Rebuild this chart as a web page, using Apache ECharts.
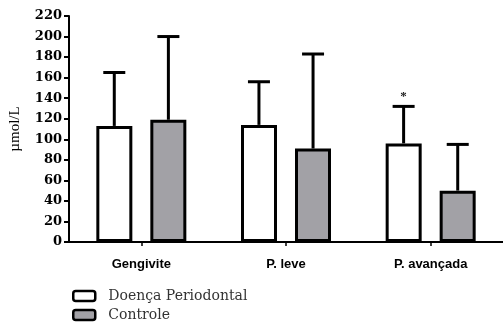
<!DOCTYPE html>
<html>
<head>
<meta charset="utf-8">
<script src="https://cdn.jsdelivr.net/npm/echarts@6/dist/echarts.min.js"></script>
<style>html,body{margin:0;padding:0;background:#fff;}#c{width:503px;height:322px;}</style>
</head>
<body>
<div id="c"></div>
<script>
const categories = ['Gengivite', 'P. leve', 'P. avançada'];
const seriesNames = ['Doença Periodontal', 'Controle'];
const periodontal = [113, 114, 96];
const periodontalUpper = [165, 156, 132];
const controle = [119, 91, 50];
const controleUpper = [200, 183, 95];
const significance = ['', '', '*'];
const yTicks = { min: 0, max: 220, interval: 20 };

const chart = echarts.init(document.getElementById('c'), null, { renderer: 'canvas' });

function errorSeries(name, means, uppers, sign, marks) {
  return {
    type: 'custom',
    name: name + ' SD',
    z: 5,
    data: means.map((m, i) => [i, m, uppers[i]]),
    renderItem: function (params, api) {
      const i = api.value(0);
      const bw = api.size([1, 0])[0];
      const off = sign * bw * 0.187;
      const base = api.coord([i, api.value(1)]);
      const top = api.coord([i, api.value(2)]);
      const x = base[0] + off;
      const children = [
        { type: 'line', shape: { x1: x, y1: base[1], x2: x, y2: top[1] }, style: { stroke: '#000', lineWidth: 3 } },
        { type: 'line', shape: { x1: x - 11, y1: top[1], x2: x + 11, y2: top[1] }, style: { stroke: '#000', lineWidth: 3 } }
      ];
      const mark = marks ? marks[params.dataIndex] : '';
      if (mark) {
        children.push({ type: 'text', style: { text: mark, x: x, y: top[1] - 3, align: 'center', verticalAlign: 'bottom', font: 'bold 13px "Liberation Serif"', fill: '#222' } });
      }
      return { type: 'group', children: children };
    }
  };
}

function legendFor(name, top) {
  return {
    left: 72,
    top: top,
    padding: 0,
    itemWidth: 22,
    itemHeight: 10,
    icon: 'roundRect',
    data: [name],
    textStyle: { fontFamily: 'DejaVu Serif', fontSize: 14, color: '#333', padding: [0, 0, 0, 8] },
    itemStyle: { borderColor: '#000', borderWidth: 2.5 }
  };
}

chart.setOption({
  animation: false,
  backgroundColor: '#fff',
  grid: { left: 67, top: 16, width: 438, bottom: 80, containLabel: false },
  legend: [legendFor(seriesNames[0], 289), legendFor(seriesNames[1], 308)],
  xAxis: {
    type: 'category',
    data: categories,
    axisLine: { lineStyle: { color: '#000', width: 2 } },
    axisTick: { show: true, alignWithLabel: true, length: 4, lineStyle: { color: '#000', width: 1.5 } },
    axisLabel: { fontFamily: 'Liberation Sans', fontWeight: 'bold', fontSize: 13, color: '#000', margin: 16 }
  },
  yAxis: {
    type: 'value',
    min: yTicks.min,
    max: yTicks.max,
    interval: yTicks.interval,
    name: 'µmol/L',
    nameLocation: 'middle',
    nameGap: 46,
    nameTextStyle: { fontFamily: 'Liberation Serif', fontSize: 15, color: '#000' },
    axisLine: { show: true, lineStyle: { color: '#000', width: 2 } },
    axisTick: { show: true, length: 5, lineStyle: { color: '#000', width: 2 } },
    splitLine: { show: false },
    axisLabel: { fontFamily: 'DejaVu Serif', fontWeight: 'bold', fontSize: 13, color: '#000', margin: 7 }
  },
  series: [
    {
      name: seriesNames[0], type: 'bar', data: periodontal, barWidth: 36, barGap: '50%', z: 3,
      itemStyle: { color: '#fff', borderColor: '#000', borderWidth: 3 }
    },
    {
      name: seriesNames[1], type: 'bar', data: controle, barWidth: 36, barGap: '50%', z: 3,
      itemStyle: { color: '#a2a1a6', borderColor: '#000', borderWidth: 3 }
    },
    errorSeries(seriesNames[0], periodontal, periodontalUpper, -1, significance),
    errorSeries(seriesNames[1], controle, controleUpper, 1, null)
  ]
});
</script>
</body>
</html>
